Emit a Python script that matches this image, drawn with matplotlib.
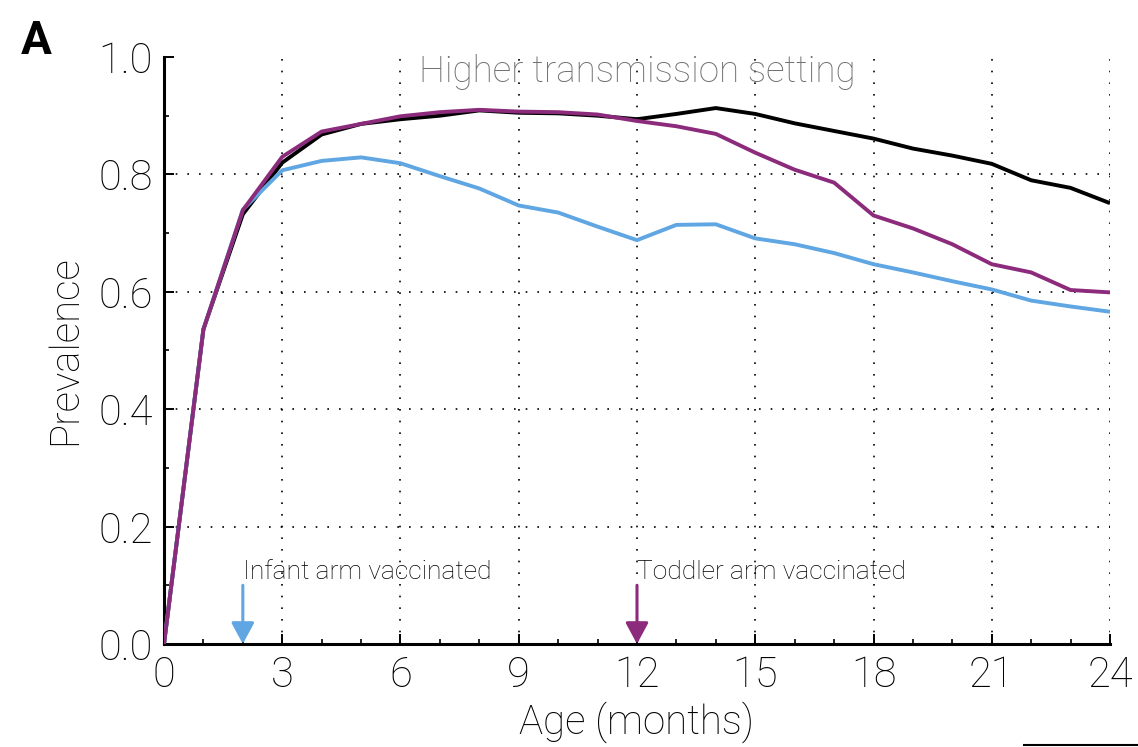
import matplotlib
matplotlib.use("Agg")
import matplotlib.pyplot as plt
from matplotlib.ticker import MultipleLocator

plt.rcParams['font.family'] = ['Roboto', 'DejaVu Sans']
plt.rcParams['font.weight'] = 'light'
plt.rcParams['axes.labelweight'] = 'light'

months = list(range(25))

no_vaccine = [0.0, 0.536, 0.732, 0.820, 0.868, 0.886, 0.894, 0.900, 0.909,
              0.905, 0.904, 0.900, 0.894, 0.903, 0.913, 0.903, 0.887, 0.874,
              0.861, 0.844, 0.832, 0.818, 0.790, 0.777, 0.751]
toddler_arm = [0.0, 0.536, 0.739, 0.830, 0.873, 0.886, 0.899, 0.906, 0.910,
               0.907, 0.906, 0.902, 0.891, 0.882, 0.869, 0.837, 0.808, 0.786,
               0.730, 0.708, 0.681, 0.647, 0.633, 0.603, 0.599]
infant_arm = [0.0, 0.536, 0.740, 0.807, 0.823, 0.829, 0.819, 0.797, 0.776,
              0.747, 0.735, 0.711, 0.688, 0.714, 0.715, 0.691, 0.681, 0.666,
              0.647, 0.633, 0.618, 0.604, 0.585, 0.575, 0.566]

infant_vacc_age = 2
toddler_vacc_age = 12

x_ticks = [0, 3, 6, 9, 12, 15, 18, 21, 24]
y_ticks = [0.0, 0.2, 0.4, 0.6, 0.8, 1.0]

BLUE = '#5fa6e3'
PURPLE = '#8c2b7c'
GRAY = '#6f6f6f'

fig = plt.figure(figsize=(11.38, 7.47), dpi=100)
ax = fig.add_axes([0.1441, 0.1379, 0.8313, 0.7858])

ax.plot(months, no_vaccine, color='black', lw=2.8, solid_capstyle='butt', zorder=3)
ax.plot(months, infant_arm, color=BLUE, lw=2.8, solid_capstyle='butt', zorder=3)
ax.plot(months, toddler_arm, color=PURPLE, lw=2.8, solid_capstyle='butt', zorder=4)

ax.set_xlim(0, 24)
ax.set_ylim(0, 1.0)
ax.set_xticks(x_ticks)
ax.set_xticklabels([str(t) for t in x_ticks])
ax.set_yticks(y_ticks)
ax.set_yticklabels([f"{t:.1f}" for t in y_ticks])
ax.xaxis.set_minor_locator(MultipleLocator(1))
ax.yaxis.set_minor_locator(MultipleLocator(0.1))

ax.tick_params(axis='both', which='major', direction='in', length=7, width=1.4,
               labelsize=30, pad=8, colors='black')
ax.tick_params(axis='both', which='minor', direction='in', length=3.5, width=1.2)

for side in ('top', 'right'):
    ax.spines[side].set_visible(False)
for side in ('left', 'bottom'):
    ax.spines[side].set_linewidth(2.2)

# dotted grid at the labelled ticks
for xv in x_ticks[1:]:
    ax.axvline(xv, color='black', lw=1.2, ls=(0, (1, 6)), zorder=1)
for yv in y_ticks[1:-1]:
    ax.axhline(yv, color='black', lw=1.2, ls=(0, (1, 6)), zorder=1)

ax.set_xlabel('Age (months)', fontsize=29, labelpad=4)
ax.set_ylabel('Prevalence', fontsize=29, labelpad=10)

ax.text(0.5, 0.974, 'Higher transmission setting', transform=ax.transAxes,
        ha='center', va='center', fontsize=26.5, color=GRAY)

# vaccination markers
arrow_top = 0.10
for age, col, label in [(infant_vacc_age, BLUE, 'Infant arm vaccinated'),
                        (toddler_vacc_age, PURPLE, 'Toddler arm vaccinated')]:
    ax.annotate('', xy=(age, 0.0), xytext=(age, arrow_top),
                arrowprops=dict(arrowstyle='-|>,head_length=1.3,head_width=0.7',
                                color=col, lw=2.2, shrinkA=0, shrinkB=0),
                zorder=5, annotation_clip=False)
    ax.text(age, 0.110, label, ha='left', va='baseline', fontsize=19, color='black')

fig.text(0.018, 0.945, 'A', fontsize=33, fontweight='bold', family='Roboto',
         ha='left', va='center')

# start of the neighbouring panel's axis
fig.add_artist(plt.Line2D([0.9, 1.0], [0.0025, 0.0025], color='black', lw=1.5,
                          transform=fig.transFigure))

fig.savefig('out.png', dpi=100)
